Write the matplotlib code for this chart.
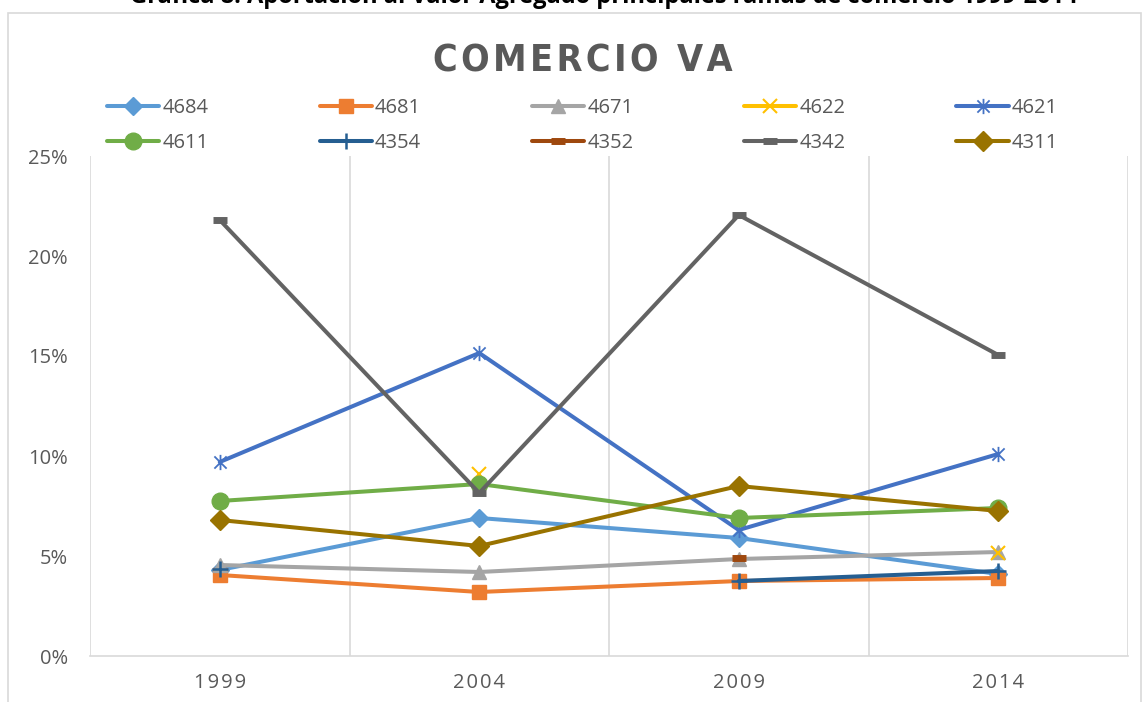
import numpy as np
import matplotlib
matplotlib.use('Agg')
from matplotlib import pyplot as plt
from matplotlib.patches import Rectangle
from matplotlib.path import Path
from matplotlib.ticker import FuncFormatter

nan = np.nan

# ================= 数据 =================
years = ['1999', '2004', '2009', '2014']
series_names = ['4684', '4681', '4671', '4622', '4621',
                '4611', '4354', '4352', '4342', '4311']

v_4684 = [4.3, 6.9, 5.9, 4.1]
v_4681 = [4.05, 3.2, 3.75, 3.9]
v_4671 = [4.55, 4.2, 4.85, 5.2]
v_4622 = [nan, 9.1, nan, 5.15]
v_4621 = [9.7, 15.15, 6.3, 10.1]
v_4611 = [7.75, 8.6, 6.9, 7.4]
v_4354 = [4.35, nan, 3.75, 4.25]
v_4352 = [nan, nan, 4.9, nan]
v_4342 = [21.8, 8.15, 22.05, 15.05]
v_4311 = [6.8, 5.5, 8.5, 7.25]

values = [v_4684, v_4681, v_4671, v_4622, v_4621,
          v_4611, v_4354, v_4352, v_4342, v_4311]

# Excel 的星号标记: 竖线 + X
star = Path([(0, -1), (0, 1), (-0.8, -0.8), (0.8, 0.8), (-0.8, 0.8), (0.8, -0.8)],
            [Path.MOVETO, Path.LINETO, Path.MOVETO, Path.LINETO, Path.MOVETO, Path.LINETO])

# 颜色 / 标记 (Excel Office 配色)
colors = ['#5B9BD5', '#ED7D31', '#A5A5A5', '#FFC000', '#4472C4',
          '#70AD47', '#255E91', '#9E480E', '#636363', '#997300']
markers = ['D', 's', '^', 'x', star, 'o', '+', '_', '_', 'D']
msizes = [9.5, 10.5, 10.5, 10, 11, 12, 12, 10, 10, 10]
medges = [1, 1, 1, 1.5, 1.3, 1, 1.8, 5, 5, 1]

plt.rcParams['font.family'] = ['Open Sans', 'DejaVu Sans']

fig = plt.figure(figsize=(11.46, 7.02), dpi=100)
ax = fig.add_axes([90 / 1146, 46 / 702, 1038 / 1146, 500 / 702])

x = np.arange(len(years))
handles = []
for name, vals, c, m, ms, mew in zip(series_names, values, colors, markers, msizes, medges):
    h, = ax.plot(x, np.array(vals) / 100, color=c, linewidth=2.9, marker=m,
                 markersize=ms, markeredgewidth=mew, markeredgecolor=c,
                 markerfacecolor=c, label=name, solid_capstyle='round')
    handles.append(h)

ax.set_xlim(-0.5, 3.5)
ax.set_ylim(0, 0.25)
ax.set_yticks(np.arange(0, 0.26, 0.05))
ax.yaxis.set_major_formatter(FuncFormatter(lambda v, p: f'{v * 100:.0f}%'))
ax.set_xticks(x)
ax.set_xticklabels(['\u200a'.join(y) for y in years])
ax.set_xticks(np.arange(-0.5, 3.6, 1), minor=True)
ax.grid(True, which='minor', axis='x', color='#D9D9D9', linewidth=1.2)
ax.tick_params(axis='both', which='both', length=0, labelsize=14.5,
               labelcolor='#595959')
ax.tick_params(axis='y', pad=16)
ax.tick_params(axis='x', pad=12)
for s in ['top', 'right', 'left']:
    ax.spines[s].set_visible(False)
ax.spines['bottom'].set_color('#D9D9D9')
ax.spines['bottom'].set_linewidth(1.2)

# 图例: 两行五列, 按行排列
order = [0, 5, 1, 6, 2, 7, 3, 8, 4, 9]
leg = fig.legend([handles[i] for i in order], [series_names[i] for i in order],
                 loc='upper left', bbox_to_anchor=(89 / 1146, 1 - 80 / 702),
                 ncol=5, frameon=False, fontsize=14.5, handlelength=2.6,
                 handletextpad=0.15, columnspacing=5.5, labelspacing=0.75)
for t in leg.get_texts():
    t.set_color('#595959')

fig.text(583 / 1146, 1 - 61 / 702, '\u200a'.join('COMERCIO VA'), ha='center', va='center',
         fontsize=27, fontweight='bold', color='#595959',
         family='DejaVu Sans', fontstretch='condensed')

# 外部标题 (上方被裁切)
fig.text(604 / 1146, 1 + 3 / 702,
         'Gráfica 8. Aportación al Valor Agregado principales ramas de comercio 1999-2014',
         ha='center', va='center', fontsize=17, fontweight='bold', color='black')

# 图表外框
fig.patches.append(Rectangle((8 / 1146, -0.05), 1133 / 1146, 1.05 - 13 / 702,
                             transform=fig.transFigure, fill=False,
                             edgecolor='#D9D9D9', linewidth=1.2))

fig.savefig('out.png', dpi=100)
